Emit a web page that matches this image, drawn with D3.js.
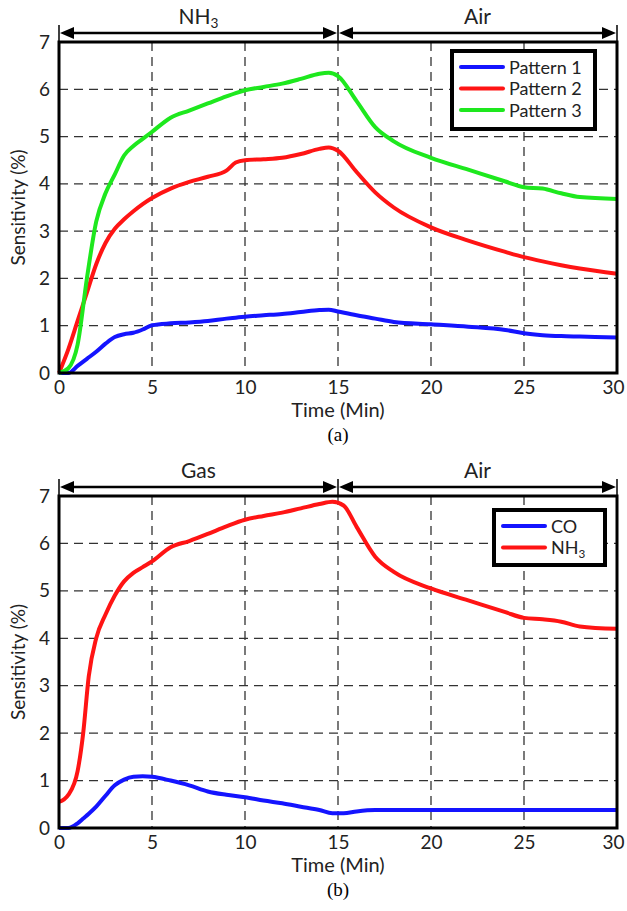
<!DOCTYPE html>
<html>
<head>
<meta charset="utf-8">
<script src="https://cdn.jsdelivr.net/npm/d3@7"></script>
<style>
  body { margin: 0; background: #fff; }
  svg text { font-family: Lato, "Open Sans", sans-serif; fill: #222; }
</style>
</head>
<body>
<div id="chart"></div>
<script>

// panel (a)
var timeA = [0, 0.5, 1, 1.5, 2, 2.5, 3, 3.5, 4, 4.5, 5, 6, 7, 8, 9, 9.5, 10, 11, 12, 13, 14, 14.5, 15, 16, 17, 18, 20, 22, 24, 25, 26, 27, 28, 30];
var pattern1 = [0, 0, 0.15, 0.3, 0.45, 0.62, 0.76, 0.82, 0.85, 0.92, 1.01, 1.05, 1.07, 1.1, 1.15, 1.17, 1.19, 1.22, 1.25, 1.29, 1.33, 1.34, 1.3, 1.22, 1.15, 1.08, 1.03, 0.98, 0.91, 0.84, 0.8, 0.78, 0.77, 0.75];
var pattern2 = [0, 0.5, 1.1, 1.7, 2.3, 2.75, 3.05, 3.25, 3.42, 3.57, 3.7, 3.9, 4.04, 4.15, 4.28, 4.45, 4.5, 4.52, 4.55, 4.63, 4.74, 4.77, 4.7, 4.25, 3.82, 3.5, 3.08, 2.8, 2.56, 2.45, 2.36, 2.28, 2.21, 2.1];
var pattern3 = [0, 0.1, 0.6, 2.0, 3.2, 3.8, 4.2, 4.6, 4.8, 4.95, 5.1, 5.4, 5.55, 5.7, 5.85, 5.92, 5.98, 6.05, 6.12, 6.22, 6.33, 6.35, 6.28, 5.75, 5.2, 4.9, 4.55, 4.3, 4.05, 3.93, 3.9, 3.8, 3.72, 3.68];

// panel (b)
var timeB = [0, 0.5, 1, 1.3, 1.6, 2, 2.5, 3, 3.5, 4, 4.5, 5, 6, 7, 8, 9, 10, 11, 12, 13, 14, 14.7, 15.3, 16, 17, 18, 20, 22, 24, 25, 26, 27, 28, 30];
var coVals = [0, 0, 0.1, 0.2, 0.3, 0.45, 0.68, 0.9, 1.02, 1.08, 1.09, 1.08, 1.0, 0.9, 0.77, 0.7, 0.65, 0.58, 0.52, 0.45, 0.38, 0.31, 0.31, 0.35, 0.38, 0.38, 0.38, 0.38, 0.38, 0.38, 0.38, 0.38, 0.38, 0.38];
var nh3Vals = [0.55, 0.7, 1.2, 2.0, 3.2, 4.0, 4.5, 4.9, 5.2, 5.38, 5.5, 5.62, 5.92, 6.05, 6.2, 6.36, 6.5, 6.58, 6.65, 6.74, 6.83, 6.88, 6.8, 6.35, 5.72, 5.4, 5.05, 4.8, 4.55, 4.43, 4.4, 4.35, 4.25, 4.2];

var xTicks = [0, 5, 10, 15, 20, 25, 30];
var yTicks = [0, 1, 2, 3, 4, 5, 6, 7];

var panels = [
  {top: 42, bottom: 373, caption: '(a)', phases: ['NH3', 'Air'], time: timeA,
   series: [{name: 'Pattern 1', vals: pattern1, color: '#1414ff'},
            {name: 'Pattern 2', vals: pattern2, color: '#ff1414'},
            {name: 'Pattern 3', vals: pattern3, color: '#1ee81e'}],
   legend: {x: 452, y: 51, w: 143, h: 78}},
  {top: 496, bottom: 828, caption: '(b)', phases: ['Gas', 'Air'], time: timeB,
   series: [{name: 'CO', vals: coVals, color: '#1414ff'},
            {name: 'NH3', vals: nh3Vals, color: '#ff1414'}],
   legend: {x: 494, y: 510, w: 111, h: 55}}
];

var svg = d3.select('#chart').append('svg')
  .attr('width', 627)
  .attr('height', 911);

var x = d3.scaleLinear().domain([0, 30]).range([59, 617]);

// writes "NH3" with a subscript 3
function label(sel, txt) {
  if (txt.indexOf('NH3') === 0) {
    sel.append('tspan').text('NH');
    sel.append('tspan').text('3').attr('font-size', '0.65em').attr('dy', '0.3em');
  } else {
    sel.text(txt);
  }
}

panels.forEach(function(p) {
  var y = d3.scaleLinear().domain([0, 7]).range([p.bottom, p.top]);
  var g = svg.append('g');

  // grid
  g.selectAll('line.vg').data(xTicks.slice(1, -1)).enter().append('line')
    .attr('x1', x).attr('x2', x).attr('y1', p.top).attr('y2', p.bottom)
    .attr('stroke', '#333').attr('stroke-width', 1.3).attr('stroke-dasharray', '9,6');
  g.selectAll('line.hg').data(yTicks.slice(1, -1)).enter().append('line')
    .attr('x1', x(0)).attr('x2', x(30)).attr('y1', y).attr('y2', y)
    .attr('stroke', '#333').attr('stroke-width', 1.3).attr('stroke-dasharray', '9,6');

  // series
  var line = d3.line()
    .x(function(d) { return x(d[0]); })
    .y(function(d) { return y(d[1]); })
    .curve(d3.curveMonotoneX);
  p.series.forEach(function(s) {
    g.append('path')
      .datum(p.time.map(function(t, i) { return [t, s.vals[i]]; }))
      .attr('d', line)
      .attr('fill', 'none')
      .attr('stroke', s.color)
      .attr('stroke-width', 4)
      .attr('stroke-linejoin', 'round');
  });

  // frame
  g.append('rect')
    .attr('x', x(0)).attr('y', p.top)
    .attr('width', x(30) - x(0)).attr('height', p.bottom - p.top)
    .attr('fill', 'none').attr('stroke', '#000').attr('stroke-width', 3);

  // axes
  var xa = g.append('g').attr('transform', 'translate(0,' + p.bottom + ')')
    .call(d3.axisBottom(x).tickValues(xTicks).tickSize(0).tickPadding(8));
  var ya = g.append('g').attr('transform', 'translate(' + x(0) + ',0)')
    .call(d3.axisLeft(y).tickValues(yTicks).tickFormat(d3.format('d')).tickSize(0).tickPadding(9));
  [xa, ya].forEach(function(a) {
    a.select('.domain').remove();
    a.selectAll('text').attr('font-size', 19).attr('font-family', 'Lato, sans-serif').attr('fill', '#222');
  });
  // keep the last label inside the page
  xa.selectAll('text').filter(function(d) { return d === 30; }).attr('dx', -4);

  g.append('text')
    .attr('x', x(15)).attr('y', p.bottom + 44)
    .attr('text-anchor', 'middle').attr('font-size', 20)
    .text('Time (Min)');
  g.append('text')
    .attr('transform', 'translate(25,' + (p.top + p.bottom) / 2 + ') rotate(-90)')
    .attr('text-anchor', 'middle').attr('font-size', 19)
    .text('Sensitivity (%)');
  g.append('text')
    .attr('x', x(15)).attr('y', p.bottom + 68)
    .attr('text-anchor', 'middle').attr('font-size', 19)
    .style('font-family', '"Liberation Serif", serif').style('fill', '#000')
    .text(p.caption);

  // phase arrows
  var ay = p.top - 9;
  [[0, 15], [15, 30]].forEach(function(r, i) {
    var x1 = x(r[0]) + 1, x2 = x(r[1]) - 1;
    g.append('line')
      .attr('x1', x1 + 10).attr('x2', x2 - 10).attr('y1', ay).attr('y2', ay)
      .attr('stroke', '#000').attr('stroke-width', 2.5);
    g.append('path')
      .attr('d', 'M' + x1 + ',' + ay + 'l14,-6l0,12z M' + x2 + ',' + ay + 'l-14,-6l0,12z')
      .attr('fill', '#000');
    g.append('text')
      .attr('x', (x(r[0]) + x(r[1])) / 2).attr('y', ay - 9)
      .attr('text-anchor', 'middle').attr('font-size', 21)
      .call(label, p.phases[i]);
  });
  xTicks.filter(function(t) { return t % 15 === 0; }).forEach(function(t) {
    g.append('line')
      .attr('x1', x(t)).attr('x2', x(t)).attr('y1', ay - 8).attr('y2', p.top)
      .attr('stroke', '#000').attr('stroke-width', 1.5);
  });

  // legend
  var L = p.legend;
  var lg = g.append('g');
  lg.append('rect')
    .attr('x', L.x).attr('y', L.y).attr('width', L.w).attr('height', L.h)
    .attr('fill', '#fff').attr('stroke', '#000').attr('stroke-width', 4);
  p.series.forEach(function(s, i) {
    var ly = L.y + 16 + i * 21.5;
    lg.append('line')
      .attr('x1', L.x + 9).attr('x2', L.x + 51).attr('y1', ly).attr('y2', ly)
      .attr('stroke', s.color).attr('stroke-width', 4).attr('stroke-linecap', 'round');
    lg.append('text')
      .attr('x', L.x + 57).attr('y', ly + 6.5)
      .attr('font-size', 18)
      .call(label, s.name);
  });
});

</script>
</body>
</html>
